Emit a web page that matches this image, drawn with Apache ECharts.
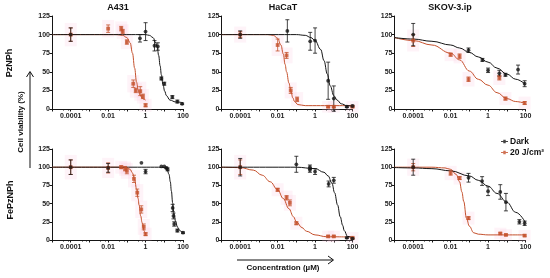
<!DOCTYPE html>
<html>
<head>
<meta charset="utf-8">
<script src="https://cdn.jsdelivr.net/npm/echarts@6/dist/echarts.min.js"></script>
<style>
  html, body { margin: 0; padding: 0; background: #fff; }
  #chart { width: 550px; height: 278px; }
</style>
</head>
<body>
<div id="chart"></div>
<script>
// data: [concentration µM, viability %, error]
const a431PzDark = [[0.0001,100,9],[0.5,95,5],[1,104,12],[3,85,7],[4.5,84,5],[7,41,2],[10,34,2],[27,16,2],[50,10,2],[90,7,1]];
const a431PzRed = [[0.0001,100,9],[0.01,108,5],[0.05,108,3],[0.06,104,3],[0.1,90,3],[0.22,34,5],[0.3,25,3],[0.52,24,6],[0.72,17,3],[1,5,2]];
const a431PzDarkFit = [[0.00001,100],[0.01,100],[1,100],[1.6,99],[2.5,96],[3.5,89],[4.2,83],[5,72],[6,58],[7,46],[8.5,33],[10.5,24],[13,18],[20,12],[40,9.5],[100,8.5]];
const a431PzRedFit = [[0.00001,100],[0.03,100],[0.06,99],[0.1,96],[0.15,89],[0.2,75],[0.26,55],[0.33,36],[0.4,26],[0.5,19],[0.65,15],[0.8,13],[1,12]];

const hacatPzDark = [[0.0001,100,5],[0.033,105,15],[0.55,91,12],[1,92,17],[5,38,25],[10,14,17],[50,3,1],[100,4,1]];
const hacatPzRed = [[0.0001,100,4],[0.01,86,8],[0.03,72,4],[0.05,25,4],[0.11,13,3],[5,3,1],[10,3,1],[100,3,1]];
const hacatPzDarkFit = [[0.00001,100],[0.1,100],[0.3,99],[0.6,96],[1,92],[2,80],[3,65],[4.5,47],[6.5,31],[10,18],[15,12],[25,7],[50,4.5],[100,4]];
const hacatPzRedFit = [[0.00001,100],[0.003,100],[0.006,99],[0.01,95],[0.015,86],[0.02,74],[0.025,60],[0.03,50],[0.04,35],[0.05,25],[0.065,15],[0.08,10],[0.12,6],[0.3,4.5],[100,4.5]];

const skovPzDark = [[0.0001,100,15],[0.09,79,3],[0.5,66,2],[1,52,3],[4,48,4],[8.5,46,2],[40,53,6],[90,34,4]];
const skovPzRed = [[0.0001,92,8],[0.01,73,2],[0.03,71,3],[0.09,40,3],[4,42,3],[8.5,14,2],[90,8,2]];
const skovPzDarkFit = [[0.00001,96],[0.0001,94],[0.001,91],[0.01,86],[0.03,82],[0.1,76],[0.3,70],[1,63],[3,55],[10,47],[30,40],[100,33]];
const skovPzRedFit = [[0.00001,96],[0.0001,92],[0.001,86],[0.01,75],[0.03,66],[0.1,51],[0.3,40],[1,32],[3,22],[10,14],[30,10],[100,7.5]];

const a431FeDark = [[0.0001,100,10],[0.01,99,6],[0.6,106,0],[1,94,3],[7,101,0],[10,101,0],[13,99,1],[15,97,2],[28,44,5],[31,33,4],[34,22,3],[50,13,2],[100,10,1]];
const a431FeRed = [[0.0001,100,10],[0.01,99,7],[0.05,100,2],[0.08,98,3],[0.1,95,4],[0.24,84,5],[0.36,65,5],[0.59,42,5],[0.8,18,4],[1,8,2]];
const a431FeDarkFit = [[0.00001,100],[5,100],[10,99.5],[14,97],[18,90],[21,80],[24,67],[28,51],[33,37],[40,26],[50,18],[63,14],[80,11.5],[100,10.5]];
const a431FeRedFit = [[0.00001,100],[0.05,100],[0.1,99],[0.15,97],[0.2,92],[0.26,83],[0.33,70],[0.4,57],[0.45,48],[0.55,33],[0.65,24],[0.74,18],[0.85,12],[1,8]];

const hacatFeDark = [[0.0001,100,12],[0.1,104,11],[0.53,100,3],[0.53,96,3],[1,94,4],[5.3,77,4],[10,82,4],[50,3,1],[100,2,1]];
const hacatFeRed = [[0.0001,100,10],[0.01,69,2],[0.03,58,3],[0.045,51,4],[0.1,23,2],[5,5,1],[10,5,1],[100,3,1]];
const hacatFeDarkFit = [[0.00001,100],[0.1,100],[1,98],[3,93],[5,88],[8,78],[11,65],[16,48],[22,32],[30,20],[36,13],[54,5],[100,3]];
const hacatFeRedFit = [[0.00001,100],[0.0001,99.5],[0.0005,96],[0.0015,89],[0.004,80],[0.01,69],[0.02,57],[0.04,43],[0.07,32],[0.1,25],[0.2,17],[0.35,12],[1,7],[4,4.5],[100,4]];

const skovFeDark = [[0.0001,100,11],[0.09,85.5,6],[0.48,81,6],[1,67,6],[4.5,66,10],[9,52,12],[47,25,3],[90,23,3]];
const skovFeRed = [[0.0001,100,5],[0.01,92,3],[0.03,85,2],[0.09,30,2],[4.5,9,1],[9,7,1],[90,6,1]];
const skovFeDarkFit = [[0.00001,99.5],[0.0001,99],[0.001,98],[0.01,95],[0.1,88],[0.3,82],[1,74],[3,64],[10,52],[30,38],[100,24]];
const skovFeRedFit = [[0.00001,100],[0.001,100],[0.005,99],[0.01,97],[0.02,90],[0.03,80],[0.04,66],[0.05,53],[0.07,30],[0.1,19],[0.17,10],[0.3,8],[1,7],[100,7]];

const titles = ['A431', 'HaCaT', 'SKOV-3.ip'];
const rowLabels = ['PzNPh', 'FePzNPh'];
const xLabels = { '-4': '0.0001', '-2': '0.01', '0': '1', '2': '100' };

const panels = [
  [a431PzDark, a431PzRed, a431PzDarkFit, a431PzRedFit],
  [hacatPzDark, hacatPzRed, hacatPzDarkFit, hacatPzRedFit],
  [skovPzDark, skovPzRed, skovPzDarkFit, skovPzRedFit],
  [a431FeDark, a431FeRed, a431FeDarkFit, a431FeRedFit],
  [hacatFeDark, hacatFeRed, hacatFeDarkFit, hacatFeRedFit],
  [skovFeDark, skovFeRed, skovFeDarkFit, skovFeRedFit],
];

const BLACK = '#151515';
const RED = '#c4502c';
const FONT = 'Liberation Sans, Arial, sans-serif';
const colLeft = [52, 221.5, 394.5];
const rowTop = [16, 149];
const rowH = [93, 91];

const grids = [], xAxes = [], yAxes = [], series = [];

function errBars(color) {
  return function (params, api) {
    const e = api.value(2);
    if (!e) return null;
    const x = api.value(0), y = api.value(1);
    const t = api.coord([x, y + e]);
    const b = api.coord([x, y - e]);
    const st = { stroke: color, lineWidth: 0.8 };
    return {
      type: 'group',
      children: [
        { type: 'line', shape: { x1: t[0], y1: t[1], x2: b[0], y2: b[1] }, style: st },
        { type: 'line', shape: { x1: t[0] - 2, y1: t[1], x2: t[0] + 2, y2: t[1] }, style: st },
        { type: 'line', shape: { x1: b[0] - 2, y1: b[1], x2: b[0] + 2, y2: b[1] }, style: st },
      ],
    };
  };
}

// faint pink tint that sits behind the irradiated points in the source figure
function halo(params, api) {
  const x = api.value(0), y = api.value(1), e = api.value(2) || 0;
  const t = api.coord([x, y + e]);
  const b = api.coord([x, y - e]);
  return {
    type: 'rect',
    shape: { x: t[0] - 6, y: t[1] - 5, width: 12, height: b[1] - t[1] + 10 },
    style: { fill: 'rgba(248,196,222,0.2)' },
  };
}

panels.forEach((p, i) => {
  const r = Math.floor(i / 3), c = i % 3;
  grids.push({ left: colLeft[c], top: rowTop[r], width: 131, height: rowH[r] });
  xAxes.push({
    gridIndex: i, type: 'log', logBase: 10, min: 0.00001, max: 100,
    axisLine: { lineStyle: { color: BLACK, width: 1 } },
    axisTick: { show: true, length: 2.5, lineStyle: { color: BLACK } },
    minorTick: { show: true, splitNumber: 3, length: 1.5, lineStyle: { color: BLACK } },
    splitLine: { show: false },
    axisLabel: {
      fontSize: 7, fontWeight: 'bold', color: '#222', fontFamily: FONT, margin: 4,
      formatter: v => xLabels[String(Math.round(Math.log10(v)))] || '',
    },
  });
  yAxes.push({
    gridIndex: i, type: 'value', min: 0, max: 125, interval: 25,
    axisLine: { show: true, lineStyle: { color: BLACK, width: 1 } },
    axisTick: { show: true, length: 2.5, lineStyle: { color: BLACK } },
    splitLine: { show: false },
    axisLabel: { fontSize: 7, fontWeight: 'bold', color: '#222', fontFamily: FONT, margin: 2 },
  });
  const [dark, red, darkFit, redFit] = p;
  series.push(
    { type: 'custom', xAxisIndex: i, yAxisIndex: i, data: red, renderItem: halo, silent: true, z: 1 },
    { type: 'line', xAxisIndex: i, yAxisIndex: i, data: redFit, showSymbol: false, smooth: 0.4, smoothMonotone: 'x',
      lineStyle: { color: RED, width: 1 }, silent: true, z: 2 },
    { type: 'line', xAxisIndex: i, yAxisIndex: i, data: darkFit, showSymbol: false, smooth: 0.4, smoothMonotone: 'x',
      lineStyle: { color: BLACK, width: 1 }, silent: true, z: 3 },
    { type: 'custom', xAxisIndex: i, yAxisIndex: i, data: red, renderItem: errBars(RED), z: 4 },
    { type: 'custom', xAxisIndex: i, yAxisIndex: i, data: dark, renderItem: errBars(BLACK), z: 4 },
    { name: '20 J/cm²', type: 'scatter', xAxisIndex: i, yAxisIndex: i, data: red, symbol: 'rect', symbolSize: 3.8,
      itemStyle: { color: RED }, z: 5 },
    { name: 'Dark', type: 'scatter', xAxisIndex: i, yAxisIndex: i, data: dark, symbol: 'circle', symbolSize: 3.8,
      itemStyle: { color: BLACK }, z: 6 },
  );
});

const titleX = [118, 283, 450];
const graphic = [];
titles.forEach((t, i) => graphic.push({
  type: 'text', x: titleX[i], y: 8,
  style: { text: t, font: 'bold 9px ' + FONT, fill: '#111', align: 'center', verticalAlign: 'middle' },
}));
[[10, 63], [11, 200]].forEach((pos, i) => graphic.push({
  type: 'text', x: pos[0], y: pos[1], rotation: Math.PI / 2,
  style: { text: rowLabels[i], font: 'bold 9px ' + FONT, fill: '#111', align: 'center', verticalAlign: 'middle' },
}));
graphic.push(
  { type: 'text', x: 21, y: 122, rotation: Math.PI / 2,
    style: { text: 'Cell viability (%)', font: 'bold 8px ' + FONT, fill: '#111', align: 'center', verticalAlign: 'middle' } },
  { type: 'polyline', shape: { points: [[30, 168], [30, 72]] }, style: { stroke: '#111', lineWidth: 1 } },
  { type: 'polyline', shape: { points: [[26.5, 77], [30, 71.5], [33.5, 77]] }, style: { stroke: '#111', lineWidth: 1, fill: null } },
  { type: 'text', x: 283, y: 268,
    style: { text: 'Concentration (µM)', font: 'bold 8px ' + FONT, fill: '#111', align: 'center', verticalAlign: 'middle' } },
  { type: 'polyline', shape: { points: [[237, 260], [333, 260]] }, style: { stroke: '#111', lineWidth: 1 } },
  { type: 'polyline', shape: { points: [[328, 256], [333.5, 260], [328, 264]] }, style: { stroke: '#111', lineWidth: 1, fill: null } },
);

const legendIcon = 'path://M0,4.4L2.6,4.4L2.6,3L5.4,3L5.4,4.4L8,4.4L8,5.6L5.4,5.6L5.4,7L2.6,7L2.6,5.6L0,5.6Z';

const chart = echarts.init(document.getElementById('chart'), null, { renderer: 'canvas' });
chart.setOption({
  animation: false,
  backgroundColor: '#fff',
  grid: grids,
  xAxis: xAxes,
  yAxis: yAxes,
  legend: {
    data: [{ name: 'Dark', icon: legendIcon }, { name: '20 J/cm²', icon: legendIcon }],
    orient: 'vertical', left: 496, top: 132, itemWidth: 7, itemHeight: 7, itemGap: 2,
    textStyle: { fontSize: 8.5, fontWeight: 'bold', color: '#111', fontFamily: FONT, padding: [0, 0, 0, -3] },
    selectedMode: false,
  },
  graphic: graphic,
  series: series,
});
</script>
</body>
</html>
